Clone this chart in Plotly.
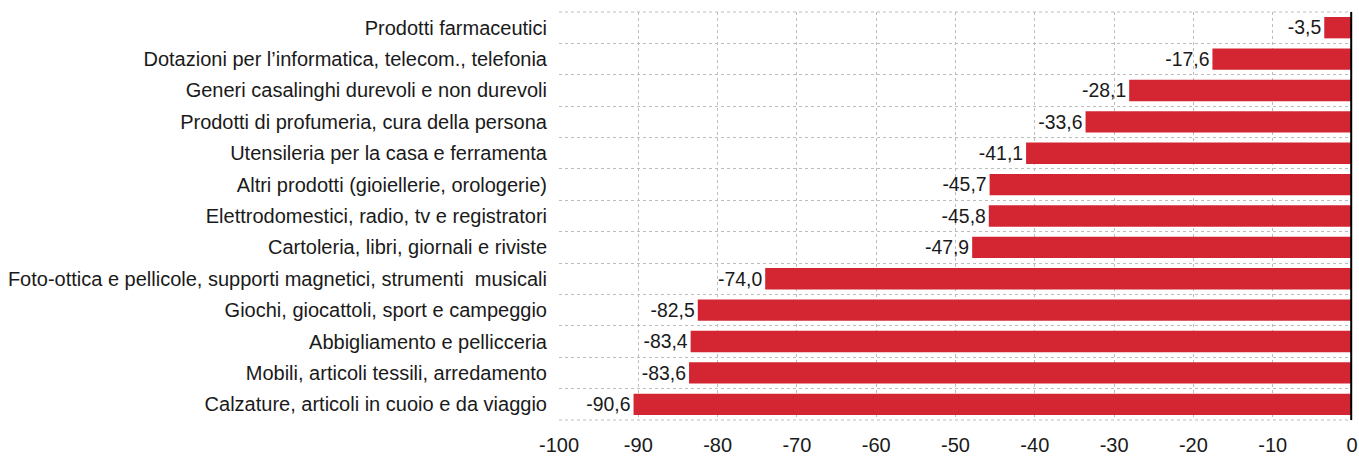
import plotly.graph_objects as go

categories = [
    "Prodotti farmaceutici",
    "Dotazioni per l’informatica, telecom., telefonia",
    "Generi casalinghi durevoli e non durevoli",
    "Prodotti di profumeria, cura della persona",
    "Utensileria per la casa e ferramenta",
    "Altri prodotti (gioiellerie, orologerie)",
    "Elettrodomestici, radio, tv e registratori",
    "Cartoleria, libri, giornali e riviste",
    "Foto-ottica e pellicole, supporti magnetici, strumenti  musicali",
    "Giochi, giocattoli, sport e campeggio",
    "Abbigliamento e pellicceria",
    "Mobili, articoli tessili, arredamento",
    "Calzature, articoli in cuoio e da viaggio",
]
values = [-3.5, -17.6, -28.1, -33.6, -41.1, -45.7, -45.8, -47.9, -74.0, -82.5, -83.4, -83.6, -90.6]
x_ticks = [-100, -90, -80, -70, -60, -50, -40, -30, -20, -10, 0]

n = len(categories)
ypos = [n - 1 - i for i in range(n)]

FONT = "Liberation Sans, Arial, sans-serif"
TXT = "#1a1a1a"
GRID = "#BDBDBD"

fig = go.Figure(go.Bar(
    x=values, y=ypos, orientation="h",
    marker=dict(color="#D42632", line=dict(width=0)),
    width=0.68,
    text=values, texttemplate="%{x:.1f}", textposition="outside",
    textfont=dict(family=FONT, size=20, color=TXT),
    cliponaxis=False,
))

fig.update_layout(
    width=1359, height=459,
    margin=dict(l=559, r=7, t=12, b=39),
    plot_bgcolor="white", paper_bgcolor="white",
    separators=",.",
    showlegend=False,
    font=dict(family=FONT, size=20, color=TXT),
    xaxis=dict(
        range=[-100, 0], tickvals=x_ticks, ticktext=[str(v) for v in x_ticks],
        showgrid=True, gridcolor=GRID, griddash="dot", gridwidth=1,
        zeroline=False, showline=False, ticks="", automargin=False,
        ticklabelstandoff=11,
        tickfont=dict(family=FONT, size=20, color=TXT),
    ),
    yaxis=dict(
        range=[-0.5, n - 0.5], tickvals=ypos, ticktext=categories,
        showgrid=False, zeroline=False, showline=False, ticks="",
        automargin=False, ticklabelstandoff=11,
        tickfont=dict(family=FONT, size=20, color=TXT),
        minor=dict(tick0=0.5, dtick=1, showgrid=True, gridcolor=GRID,
                   griddash="dot", gridwidth=1, ticks=""),
    ),
)
fig.add_shape(type="line", xref="paper", yref="paper", x0=0, x1=1, y0=1, y1=1,
              line=dict(color=GRID, width=1, dash="dot"), layer="below")
fig.add_shape(type="line", xref="paper", yref="paper", x0=0, x1=1, y0=0, y1=0,
              line=dict(color=GRID, width=1, dash="dot"), layer="below")
fig.add_shape(type="line", xref="paper", yref="paper", x0=0.999, x1=0.999, y0=0, y1=1,
              line=dict(color="black", width=2), layer="above")

fig.write_html("out.html", config={"displayModeBar": False},
               post_script="document.body.style.margin='0';document.body.style.overflow='hidden';")
